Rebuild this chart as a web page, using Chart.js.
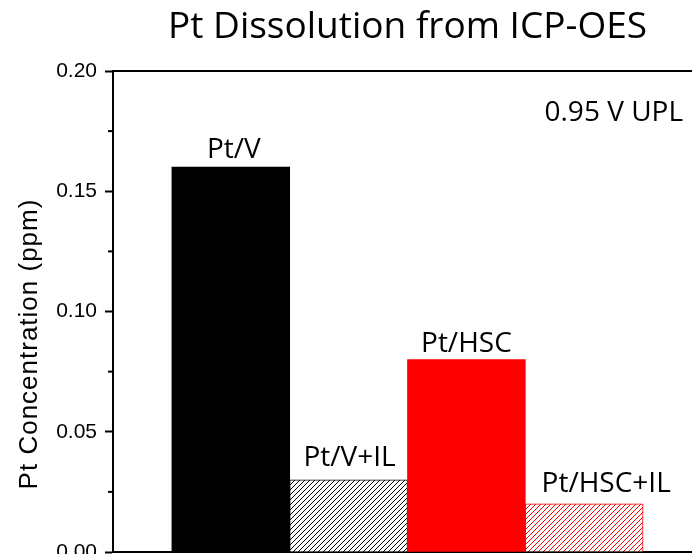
<!DOCTYPE html>
<html>
<head>
<meta charset="utf-8">
<title>Pt Dissolution from ICP-OES</title>
<script src="https://cdn.jsdelivr.net/npm/chart.js@4.4.1/dist/chart.umd.min.js"></script>
<style>
  html, body { margin: 0; padding: 0; background: #fff; overflow: hidden; }
  #wrap { width: 720px; height: 600px; }
</style>
</head>
<body>
<div id="wrap"><canvas id="ptChart" width="720" height="600"></canvas></div>
<script>
const samples = ["Pt/V", "Pt/V+IL", "Pt/HSC", "Pt/HSC+IL"];
const ptConc = [0.16, 0.03, 0.08, 0.02];
const yTicks = [0, 0.05, 0.10, 0.15, 0.20];
const yMinorTicks = [0.025, 0.075, 0.125, 0.175];
const sampleColors = ["#000000", "#000000", "#ff0000", "#ff0000"];
const hatched = [false, true, false, true];

const labelFont = "28px 'Open Sans'";

// diagonal "/" hatch on white
function hatch(color) {
  const c = document.createElement("canvas");
  c.width = c.height = 5;
  const g = c.getContext("2d");
  g.fillStyle = "#fff";
  g.fillRect(0, 0, 5, 5);
  g.strokeStyle = color;
  g.lineWidth = 1;
  g.beginPath();
  g.moveTo(0, 5); g.lineTo(5, 0);
  g.moveTo(-1, 1); g.lineTo(1, -1);
  g.moveTo(4, 6); g.lineTo(6, 4);
  g.stroke();
  return g.createPattern(c, "repeat");
}

// frame, minor ticks, bar names, annotation and y title
const decorations = {
  id: "decorations",
  afterDatasetsDraw(chart) {
    const { ctx, chartArea: a, scales } = chart;
    ctx.save();
    ctx.strokeStyle = "#000";
    ctx.lineWidth = 2;
    ctx.beginPath();
    ctx.moveTo(a.left - 1, a.top);
    ctx.lineTo(a.right, a.top);
    ctx.lineTo(a.right, a.bottom);
    ctx.stroke();

    yMinorTicks.forEach(v => {
      const y = scales.y.getPixelForValue(v);
      ctx.beginPath();
      ctx.moveTo(a.left - 5, y);
      ctx.lineTo(a.left, y);
      ctx.stroke();
    });

    // names above bars
    const shiftX = [3, 1, 0, 22];
    const gap = [9, 14, 8, 12];
    const bars = chart.getDatasetMeta(0).data;
    ctx.fillStyle = "#000";
    ctx.font = labelFont;
    ctx.textAlign = "center";
    ctx.textBaseline = "alphabetic";
    bars.forEach((bar, i) => {
      ctx.fillText(samples[i], bar.x + shiftX[i], bar.y - gap[i]);
    });

    ctx.textAlign = "right";
    ctx.fillText("0.95 V UPL", a.right - 19, a.top + 50);

    ctx.font = "26px 'Liberation Sans', Arial, sans-serif";
    ctx.letterSpacing = "1px";
    ctx.textAlign = "center";
    ctx.translate(37, 344);
    ctx.rotate(-Math.PI / 2);
    ctx.fillText("Pt Concentration (ppm)", 0, 0);
    ctx.restore();
  }
};

new Chart(document.getElementById("ptChart"), {
  type: "bar",
  data: {
    datasets: [{
      data: ptConc.map((v, i) => ({ x: i + 1, y: v })),
      backgroundColor: sampleColors.map((c, i) => hatched[i] ? hatch(c) : c),
      borderColor: sampleColors,
      borderWidth: hatched.map(h => h ? 1 : 0),
      barPercentage: 1,
      categoryPercentage: 1
    }]
  },
  options: {
    responsive: false,
    animation: false,
    layout: { padding: { left: 0, right: 18, top: 0, bottom: 48 } },
    plugins: {
      legend: { display: false },
      tooltip: { enabled: false },
      title: {
        display: true,
        text: "Pt Dissolution from ICP-OES",
        fullSize: false,
        color: "#000",
        font: { family: "'Open Sans'", size: 37, weight: "normal", lineHeight: 1.2 },
        padding: { top: 5, bottom: 21.6 }
      }
    },
    scales: {
      x: {
        type: "linear",
        min: 0,
        max: 5,
        offset: false,
        afterBuildTicks: s => { s.ticks = samples.map((_, i) => ({ value: i + 1 })); },
        ticks: { display: false },
        grid: { drawOnChartArea: false, drawTicks: false },
        border: { color: "#000", width: 2 }
      },
      y: {
        min: 0,
        max: 0.2,
        afterBuildTicks: s => { s.ticks = yTicks.map(v => ({ value: v })); },
        afterFit: s => { s.width = 113; },
        ticks: {
          color: "#000",
          padding: 8,
          font: { family: "'Liberation Sans', Arial, sans-serif", size: 21 },
          callback: v => Number(v).toFixed(2)
        },
        grid: { drawOnChartArea: false, tickLength: 8, tickWidth: 2, color: "#000" },
        border: { color: "#000", width: 2 }
      }
    }
  },
  plugins: [decorations]
});
</script>
</body>
</html>
